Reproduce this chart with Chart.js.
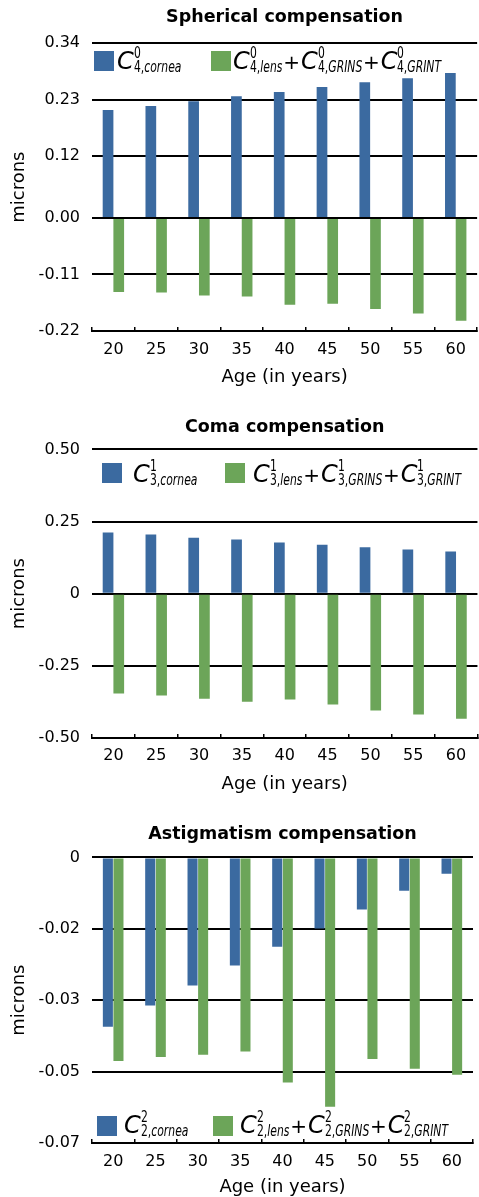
<!DOCTYPE html>
<html>
<head>
<meta charset="utf-8">
<script src="https://cdn.jsdelivr.net/npm/chart.js@4.4.1/dist/chart.umd.min.js"></script>
<style>
  body { margin: 0; background: #fff; }
  #page { position: relative; width: 479px; height: 1197px; overflow: hidden; }
  .box { position: absolute; left: 0; width: 479px; }
  .sw { position: absolute; width: 20px; height: 20px; }
  .lt { position: absolute; white-space: nowrap; font-family: 'DejaVu Sans', sans-serif; font-size: 24px; line-height: 22px; height: 22px; color: #000; }
  .cC { font-style: italic; }
  .ss { display: inline-block; position: relative; font-size: 15px; line-height: 15px; transform: scaleX(0.72); transform-origin: left center; }
  .sb { position: relative; top: 3px; }
  .sp { position: absolute; left: 0; top: -11px; }
  .pl { font-size: 20px; margin: 0 1px; }
</style>
</head>
<body>
<div id="page">
  <div class="box" id="box1" style="top:0;height:395px"><canvas id="spherical"></canvas></div>
  <div class="box" id="box2" style="top:405px;height:395px"><canvas id="coma"></canvas></div>
  <div class="box" id="box3" style="top:810px;height:387px"><canvas id="astig"></canvas></div>
</div>
<script>
// ages on the x axis
const ages = ['20', '25', '30', '35', '40', '45', '50', '55', '60'];

// spherical aberration (microns)
const sphCornea = [0.210, 0.218, 0.227, 0.237, 0.245, 0.255, 0.264, 0.272, 0.282];
const sphInternal = [-0.144, -0.145, -0.151, -0.153, -0.169, -0.167, -0.177, -0.186, -0.200];
const sphTickValues = [-0.22, -0.11, 0, 0.12, 0.23, 0.34];
const sphTicks = ['-0.22', '-0.11', '0.00', '0.12', '0.23', '0.34'];

// coma (microns)
const comaCornea = [0.212, 0.205, 0.194, 0.188, 0.177, 0.170, 0.161, 0.153, 0.146];
const comaInternal = [-0.346, -0.353, -0.364, -0.374, -0.367, -0.384, -0.405, -0.419, -0.433];
const comaTicks = ['-0.50', '-0.25', '0', '0.25', '0.50'];

// astigmatism (microns)
const astCornea = [-0.0415, -0.0363, -0.0314, -0.0265, -0.0219, -0.0174, -0.0128, -0.0082, -0.0040];
const astInternal = [-0.0499, -0.0489, -0.0484, -0.0476, -0.0552, -0.0611, -0.0494, -0.0518, -0.0533];
const astTicks = ['-0.07', '-0.05', '-0.03', '-0.02', '0'];

const internalParts = ['lens', 'GRINS', 'GRINT'];

const BLUE = '#3b6aa0';
const GREEN = '#6ca559';
const FONT = "'DejaVu Sans', sans-serif";

Chart.defaults.font.family = FONT;
Chart.defaults.color = '#000';

// builds one bar chart; most settings are shared by the three panels
function makeChart(canvasId, cfg) {
    const ctx = document.getElementById(canvasId).getContext('2d');
    return new Chart(ctx, {
        type: 'bar',
        data: {
            labels: ages,
            datasets: [
                { data: cfg.cornea, backgroundColor: BLUE, categoryPercentage: 0.5, barPercentage: cfg.barPct },
                { data: cfg.internal, backgroundColor: GREEN, categoryPercentage: 0.5, barPercentage: cfg.barPct }
            ]
        },
        options: {
            responsive: true,
            maintainAspectRatio: false,
            animation: false,
            layout: { padding: { left: 0, right: cfg.padRight, top: 0, bottom: 0 } },
            plugins: {
                legend: { display: false },
                tooltip: { enabled: false },
                title: {
                    display: true,
                    text: cfg.title,
                    fullSize: false,
                    font: { size: 17.5, weight: 'bold' },
                    padding: cfg.titlePad
                }
            },
            scales: {
                x: {
                    offset: true,
                    grid: { display: true, drawOnChartArea: false, color: '#000', lineWidth: 1.5, tickLength: -4 },
                    border: { display: true, color: '#000', width: 2 },
                    ticks: { font: { size: 16 }, padding: cfg.xTickPad, maxRotation: 0 },
                    title: { display: true, text: 'Age (in years)', font: { size: 18 }, padding: { top: 0, bottom: cfg.xTitlePad } },
                    afterFit: function (scale) { scale.height = cfg.xHeight; }
                },
                y: {
                    min: cfg.min,
                    max: cfg.max,
                    grid: { color: '#000', lineWidth: 2, drawTicks: false },
                    border: { display: false },
                    ticks: {
                        stepSize: cfg.step,
                        font: { size: 16 },
                        padding: 12,
                        callback: function (value, index) { return cfg.tickLabels[index]; }
                    },
                    afterBuildTicks: function (scale) {
                        if (cfg.tickValues) {
                            scale.ticks = cfg.tickValues.map(v => ({ value: v }));
                        }
                    },
                    title: { display: true, text: 'microns', font: { size: 18 }, padding: { top: 8.5, bottom: 0 } },
                    afterFit: function (scale) { scale.width = 92; }
                }
            }
        }
    });
}

makeChart('spherical', {
    title: 'Spherical compensation', cornea: sphCornea, internal: sphInternal,
    min: -0.22, max: 0.34, step: 0.112, tickLabels: sphTicks, tickValues: sphTickValues, barPct: 1,
    titlePad: { top: 7.3, bottom: 15 }, xHeight: 64, xTickPad: 13, xTitlePad: 7, padRight: 0
});
makeChart('coma', {
    title: 'Coma compensation', cornea: comaCornea, internal: comaInternal,
    min: -0.5, max: 0.5, step: 0.25, tickLabels: comaTicks, barPct: 1,
    titlePad: { top: 12.4, bottom: 11 }, xHeight: 62, xTickPad: 12.7, xTitlePad: 5, padRight: 0
});
makeChart('astig', {
    title: 'Astigmatism compensation', cornea: astCornea, internal: astInternal,
    min: -0.07, max: 0, step: 0.0175, tickLabels: astTicks, barPct: 0.95,
    titlePad: { top: 14.4, bottom: 12 }, xHeight: 54, xTickPad: 13, xTitlePad: -1, padRight: 6
});

// legend terms like C^m_{n,name}
function cTerm(m, n, name) {
    return '<span class="cC">C</span><span class="ss"><span class="sp">' + m + '</span>' +
        '<span class="sb">' + n + ',<i>' + name + '</i></span></span>';
}

function addLegend(boxId, m, n, pos) {
    const box = document.getElementById(boxId);
    const items = [
        { color: BLUE, html: cTerm(m, n, 'cornea') },
        { color: GREEN, html: internalParts.map(p => cTerm(m, n, p)).join('<span class="pl">+</span>') }
    ];
    items.forEach(function (item, i) {
        const sw = document.createElement('div');
        sw.className = 'sw';
        sw.style.background = item.color;
        sw.style.left = pos[i].x + 'px';
        sw.style.top = pos[i].y + 'px';
        box.appendChild(sw);
        const t = document.createElement('div');
        t.className = 'lt';
        t.innerHTML = item.html;
        t.style.left = pos[i].tx + 'px';
        t.style.top = (pos[i].y + pos[i].dy) + 'px';
        box.appendChild(t);
    });
}

addLegend('box1', '0', '4', [{ x: 94, y: 51, tx: 117, dy: -1.3 }, { x: 211, y: 51, tx: 233, dy: -1.3 }]);
addLegend('box2', '1', '3', [{ x: 102, y: 58, tx: 133, dy: -0.3 }, { x: 225, y: 58, tx: 253, dy: -0.3 }]);
addLegend('box3', '2', '2', [{ x: 97, y: 306, tx: 124, dy: -2.3 }, { x: 213, y: 306, tx: 240, dy: -2.3 }]);

// the scaled sub/superscripts keep their full width in layout, pull the next glyph back
document.querySelectorAll('.ss').forEach(function (el) {
    el.style.marginRight = (-(1 - 0.72) * el.offsetWidth) + 'px';
});
</script>
</body>
</html>
